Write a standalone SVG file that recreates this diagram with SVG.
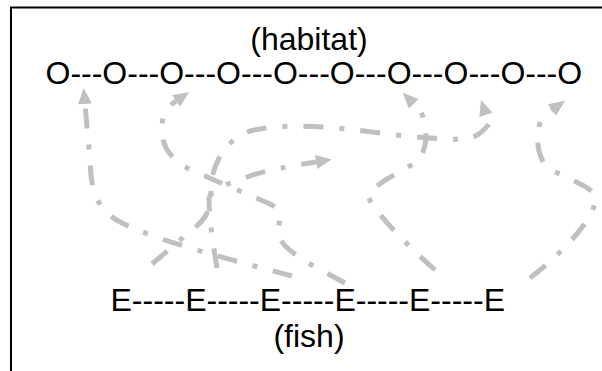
<svg xmlns="http://www.w3.org/2000/svg" width="602" height="371" viewBox="0 0 602 371">
  <style>
    .lbl { font-family: "Liberation Sans", Arial, sans-serif; font-size: 32px; fill: #000; }
    .edge { fill: none; stroke: #c0c0c0; stroke-width: 5; stroke-dasharray: 20 16 5 16; marker-end: url(#head); }
  </style>
  <defs>
    <marker id="head" viewBox="0 0 16 14" refX="0" refY="7" markerWidth="16" markerHeight="14" markerUnits="userSpaceOnUse" orient="auto">
      <path d="M0,0 L16,7 L0,14 z" fill="#c0c0c0"/>
    </marker>
  </defs>
  <rect x="11" y="7.5" width="600" height="370" fill="#fff" stroke="#000" stroke-width="2"/>

  <g id="connectors">
    <path class="edge" d="M292,276 C240,262 160,242 122,223 C96,210 91,190 90,160 L85,104"/>
    <path class="edge" d="M152,264 L199,224 C207,216 211,208 211,190 C211,165 225,140 250,131 C280,123 330,126 380,133 C420,138 450,140 465,139 Q478,138 489,124 L486,115"/>
    <path class="edge" d="M345,283 L310,264 C290,252 275,240 278,228 C281,216 282,210 270,204 C245,193 225,185 205,176 C175,165 160,150 162,125 Q163,110 176,101"/>
    <path class="edge" d="M435,270 C405,243 380,218 368,197 C375,180 410,170 420,158 C428,145 428,125 420,110 L414,104"/>
    <path class="edge" d="M217,268 C214,250 209,220 209,198 C212,188 230,183 250,176 C268,170 290,166 316,162"/>
    <path class="edge" d="M530,278 C560,255 600,215 595,195 C590,185 555,175 545,165 C535,150 535,125 545,115 L552,110"/>
  </g>

  <g id="habitat-label"><text class="lbl" x="309" y="50" text-anchor="middle">(habitat)</text></g>
  <g id="habitat"><text class="lbl" x="45.5" y="84">O---O---O---O---O---O---O---O---O---O</text></g>
  <g id="fish"><text class="lbl" x="110.5" y="311">E-----E-----E-----E-----E-----E</text></g>
  <g id="fish-label"><text class="lbl" x="309" y="347" text-anchor="middle">(fish)</text></g>
</svg>
